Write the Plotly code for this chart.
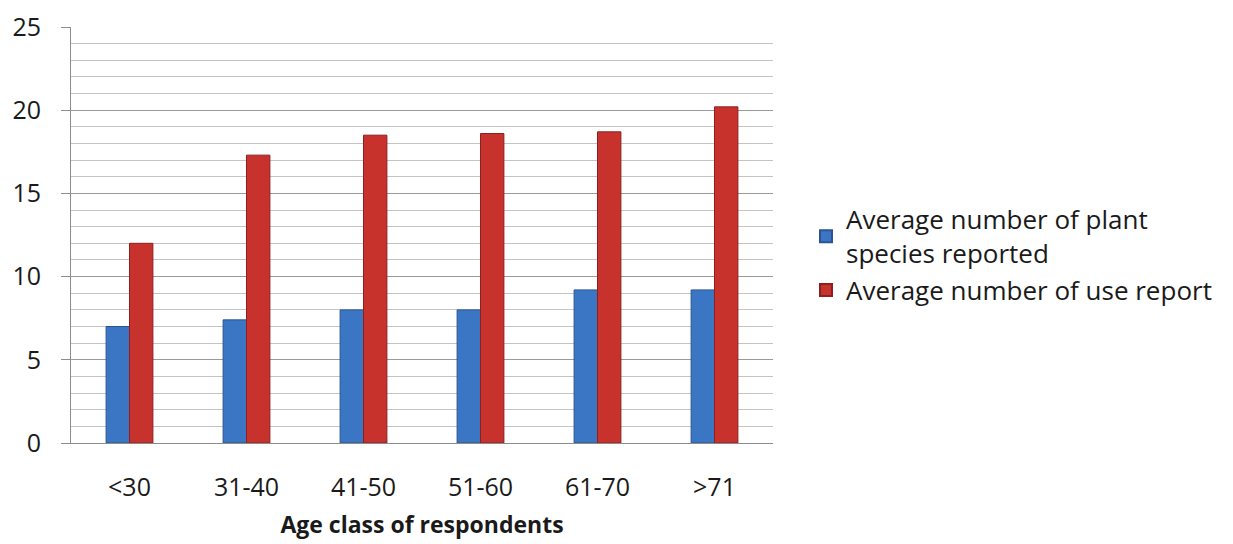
import plotly.graph_objects as go

# Age classes and averages per respondent group
age_classes = ["<30", "31-40", "41-50", "51-60", "61-70", ">71"]
plant_species = [7.0, 7.4, 8.0, 8.0, 9.2, 9.2]
use_reports = [12.0, 17.3, 18.5, 18.6, 18.7, 20.2]

series_names = [
    "Average number of plant<br>species reported",
    "Average number of use report",
]

FONT = "Open Sans"
SIZE = 25

fig = go.Figure()
fig.add_trace(go.Bar(
    x=age_classes, y=plant_species, name=series_names[0], legendgroup="a",
    marker=dict(color="#3b76c4", line=dict(color="#2a5590", width=1)),
))
fig.add_trace(go.Bar(
    x=age_classes, y=use_reports, name=series_names[1], legendgroup="b",
    marker=dict(color="#c8322d", line=dict(color="#8e1f1c", width=1)),
))

fig.update_layout(
    width=1233, height=544,
    margin=dict(l=71, r=460, t=27, b=101, autoexpand=False),
    paper_bgcolor="white", plot_bgcolor="white",
    barmode="group", bargap=0.6, bargroupgap=0,
    font=dict(family=FONT, size=SIZE, color="#1a1a1a"),
    legend=dict(
        x=1.047, y=0.594, xanchor="left", yanchor="top",
        font=dict(size=26), itemsizing="constant",
        traceorder="grouped", tracegroupgap=0,
        bgcolor="rgba(0,0,0,0)",
    ),
    showlegend=True,
)

fig.update_yaxes(
    range=[0, 25], dtick=5, tick0=0, automargin=False,
    showline=True, linecolor="#8c8c8c", linewidth=1,
    ticks="outside", ticklen=9, tickcolor="#8c8c8c",
    showgrid=True, gridcolor="#9a9a9a", gridwidth=1,
    minor=dict(dtick=1, showgrid=True, gridcolor="#c4c4c4", gridwidth=1, ticks=""),
    tickfont=dict(size=SIZE), ticklabelstandoff=15,
    zeroline=False, fixedrange=True,
)
fig.update_xaxes(
    automargin=False,
    showline=True, linecolor="#8c8c8c", linewidth=1,
    ticks="", tickfont=dict(size=SIZE), ticklabelstandoff=22,
    title=dict(text="<b>Age class of respondents</b>", font=dict(size=23), standoff=14),
)

fig.write_html("out.html")
